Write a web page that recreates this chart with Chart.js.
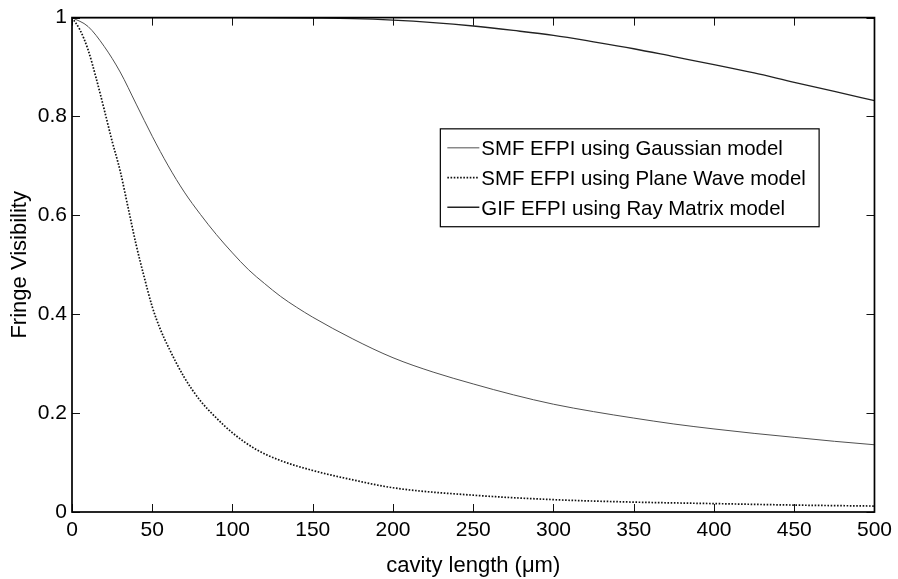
<!DOCTYPE html>
<html>
<head>
<meta charset="utf-8">
<script src="https://cdn.jsdelivr.net/npm/chart.js@4/dist/chart.umd.min.js"></script>
<style>
  html, body { margin: 0; padding: 0; background: #fff; }
  #wrap { width: 898px; height: 579px; }
</style>
</head>
<body>
<div id="wrap"><canvas id="chart" width="898" height="579"></canvas></div>
<script>
// Fringe visibility vs cavity length for three EFPI models

const gaussLength = [0, 10, 20, 30, 40, 50, 60, 70, 80, 90, 100, 110, 120, 130, 140, 150, 175, 200, 225, 250, 275, 300, 325, 350, 375, 400, 425, 450, 475, 500];
const gaussVis = [1.0, 0.982, 0.942, 0.89, 0.825, 0.76, 0.70, 0.647, 0.602, 0.561, 0.524, 0.49, 0.462, 0.436, 0.414, 0.394, 0.35, 0.312, 0.283, 0.259, 0.237, 0.218, 0.203, 0.19, 0.178, 0.168, 0.159, 0.151, 0.143, 0.136];

const planeLength = [0, 5, 10, 15, 20, 25, 30, 35, 40, 45, 50, 55, 60, 70, 80, 90, 100, 115, 130, 150, 175, 200, 250, 300, 350, 400, 450, 500];
const planeVis = [1.0, 0.975, 0.935, 0.878, 0.815, 0.75, 0.69, 0.615, 0.54, 0.475, 0.415, 0.37, 0.334, 0.272, 0.225, 0.19, 0.16, 0.126, 0.104, 0.084, 0.065, 0.049, 0.034, 0.025, 0.02, 0.017, 0.014, 0.012];

const rayLength = [0, 50, 100, 150, 175, 200, 225, 250, 275, 300, 325, 350, 375, 400, 425, 450, 475, 500];
const rayVis = [1.0, 1.0, 1.0, 0.999, 0.998, 0.995, 0.99, 0.983, 0.974, 0.964, 0.951, 0.937, 0.921, 0.905, 0.888, 0.869, 0.851, 0.832];

const seriesNames = ['SMF EFPI using Gaussian model', 'SMF EFPI using Plane Wave model', 'GIF EFPI using Ray Matrix model'];

const xTicks = [0, 50, 100, 150, 200, 250, 300, 350, 400, 450, 500];
const yTicks = [0, 0.2, 0.4, 0.6, 0.8, 1];

const FONT = 'Liberation Sans, Arial, Helvetica, sans-serif';
const FONT_SIZE = 21;
const TITLE_SIZE = 22;

function toPoints(xs, ys) {
  return xs.map((x, i) => ({ x, y: ys[i] }));
}

// frame box plus inward ticks on all four sides
const framePlugin = {
  id: 'frame',
  afterDatasetsDraw(chart) {
    const { ctx, chartArea: a, scales } = chart;
    const len = 8;
    ctx.save();
    ctx.strokeStyle = '#111';
    ctx.lineWidth = 1;
    ctx.beginPath();
    xTicks.forEach(v => {
      const px = Math.round(scales.x.getPixelForValue(v)) + 0.5;
      ctx.moveTo(px, a.bottom); ctx.lineTo(px, a.bottom - len);
      ctx.moveTo(px, a.top); ctx.lineTo(px, a.top + len);
    });
    yTicks.forEach(v => {
      const py = Math.round(scales.y.getPixelForValue(v)) + 0.5;
      ctx.moveTo(a.left, py); ctx.lineTo(a.left + len, py);
      ctx.moveTo(a.right, py); ctx.lineTo(a.right - len, py);
    });
    ctx.stroke();
    ctx.lineWidth = 1.7;
    ctx.strokeStyle = '#000';
    ctx.strokeRect(a.left, a.top, a.right - a.left, a.bottom - a.top);
    ctx.restore();
  }
};

// legend box inside the plot area
const boxLegend = {
  id: 'boxLegend',
  afterDraw(chart) {
    const { ctx, scales } = chart;
    const left = scales.x.getPixelForValue(229.5);
    const right = scales.x.getPixelForValue(465.5);
    const top = scales.y.getPixelForValue(0.775);
    const bottom = scales.y.getPixelForValue(0.577);
    ctx.save();
    ctx.fillStyle = '#fff';
    ctx.fillRect(left, top, right - left, bottom - top);
    ctx.strokeStyle = '#000';
    ctx.lineWidth = 1.2;
    ctx.strokeRect(left, top, right - left, bottom - top);
    ctx.font = '20.4px ' + FONT;
    ctx.textBaseline = 'middle';
    ctx.fillStyle = '#000';
    chart.data.datasets.forEach((ds, i) => {
      const y = top + 20 + i * 29.7;
      ctx.beginPath();
      ctx.strokeStyle = ds.borderColor;
      ctx.lineWidth = ds.borderWidth;
      ctx.setLineDash(ds.borderDash || []);
      ctx.moveTo(left + 7, y - 1);
      ctx.lineTo(left + 39, y - 1);
      ctx.stroke();
      ctx.setLineDash([]);
      ctx.fillText(ds.label, left + 41, y + 1);
    });
    ctx.restore();
  }
};

new Chart(document.getElementById('chart'), {
  type: 'line',
  data: {
    datasets: [
      {
        label: seriesNames[0],
        data: toPoints(gaussLength, gaussVis),
        borderColor: '#505050',
        borderWidth: 1,
        pointRadius: 0,
        cubicInterpolationMode: 'monotone',
        fill: false,
      },
      {
        label: seriesNames[1],
        data: toPoints(planeLength, planeVis),
        borderColor: '#111',
        borderWidth: 1.7,
        borderDash: [1.6, 1.6],
        pointRadius: 0,
        cubicInterpolationMode: 'monotone',
        fill: false,
      },
      {
        label: seriesNames[2],
        data: toPoints(rayLength, rayVis),
        borderColor: '#222',
        borderWidth: 1.3,
        pointRadius: 0,
        cubicInterpolationMode: 'monotone',
        fill: false,
      },
    ],
  },
  options: {
    responsive: false,
    animation: false,
    layout: { padding: { left: 0, top: 15.5, right: 23, bottom: 0 } },
    plugins: {
      legend: { display: false },
      tooltip: { enabled: false },
    },
    scales: {
      x: {
        type: 'linear',
        min: 0,
        max: 500,
        afterBuildTicks: s => { s.ticks = xTicks.map(v => ({ value: v })); },
        afterFit: s => { s.height = 67; },
        grid: { display: false, drawTicks: false },
        border: { display: false },
        ticks: {
          padding: 6,
          color: '#000',
          font: { family: FONT, size: FONT_SIZE },
          maxRotation: 0,
        },
        title: {
          display: true,
          text: 'cavity length (μm)',
          color: '#000',
          font: { family: FONT, size: TITLE_SIZE },
          padding: { top: 0, bottom: 0 },
        },
      },
      y: {
        min: 0,
        max: 1,
        afterBuildTicks: s => { s.ticks = yTicks.map(v => ({ value: v })); },
        afterFit: s => { s.width = 72; },
        grid: { display: false, drawTicks: false },
        border: { display: false },
        ticks: {
          padding: 5,
          color: '#000',
          font: { family: FONT, size: FONT_SIZE },
          callback: v => String(v),
        },
        title: {
          display: true,
          text: 'Fringe Visibility',
          color: '#000',
          font: { family: FONT, size: TITLE_SIZE },
          padding: { top: 7, bottom: 0 },
        },
      },
    },
  },
  plugins: [framePlugin, boxLegend],
});
</script>
</body>
</html>
